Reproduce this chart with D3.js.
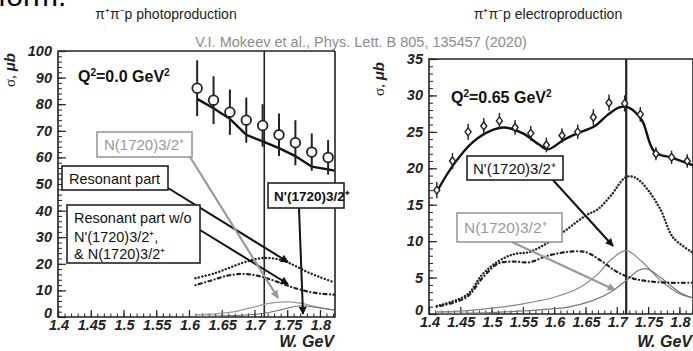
<!DOCTYPE html>
<html><head><meta charset="utf-8">
<script src="https://cdn.jsdelivr.net/npm/d3@7"></script>
<style>
body{margin:0;background:#fff;}
svg{display:block;}
text{font-family:Arial,"Liberation Sans",sans-serif;}
</style></head>
<body><svg id="c" width="693" height="351"></svg>
<script>
// ---------- DATA ----------
const xTicks = [1.4,1.45,1.5,1.55,1.6,1.65,1.7,1.75,1.8];
const yTicksPhoto = [0,10,20,30,40,50,60,70,80,90,100];
const yTicksElectro = [0,5,10,15,20,25,30,35];
const vLineW = 1.715;

// photoproduction data
const W_photo = [1.6125,1.6375,1.6625,1.6875,1.7125,1.7375,1.7625,1.7875,1.8125];
const sigma_photo = [86,81.5,77,74,72,68.5,65.5,62,60];
const err_photo = [10.5,9,8.5,8.5,8,8,8.5,7,6.5];
const fitW_photo = [1.6125,1.6375,1.6625,1.6875,1.7125,1.7375,1.7625,1.7875,1.8125,1.822];
const fit_photo = [82,78.5,74.5,68.5,66,63.5,60.5,56.5,55.5,55];
const resW_photo = [1.61,1.64,1.665,1.69,1.715,1.74,1.76,1.78,1.80,1.822];
const res_photo = [14.6,16.5,18.8,21,22.2,21.5,19.5,17,15,13];
const resWoW_photo = [1.61,1.635,1.66,1.685,1.71,1.735,1.76,1.785,1.80,1.822];
const resWo_photo = [12,13.8,15.6,16.2,15.2,13.2,11,9.4,8.8,8.4];
const nW_photo = [1.61,1.64,1.67,1.70,1.72,1.745,1.77,1.795,1.822];
const n1720_photo = [0.8,1.2,2.0,3.8,5.0,5.7,5.2,3.8,2.6];
const npW_photo = [1.61,1.65,1.69,1.72,1.745,1.77,1.795,1.822];
const nprime_photo = [0.2,0.4,0.8,1.6,3.0,4.2,3.6,2.6];

// electroproduction data
const W_el = [1.4125,1.4375,1.4625,1.4875,1.5125,1.5375,1.5625,1.5875,1.6125,1.6375,1.6625,1.6875,1.7125,1.7375,1.7625,1.7875,1.8125];
const sigma_el = [17,21,25,25.8,26.5,25.6,24.8,23.2,24.5,25,27,29,28.9,27.4,22,21.5,21];
const err_el = [0.7,0.7,0.7,0.7,0.7,0.6,0.6,0.6,0.6,0.6,0.7,0.7,0.7,0.6,0.5,0.5,0.5];
const fitW_el = [1.4125,1.44,1.47,1.50,1.52,1.55,1.575,1.59,1.615,1.64,1.665,1.685,1.705,1.72,1.74,1.76,1.79,1.822];
const fit_el = [16.8,20.6,23.6,25.2,25.6,24.8,23.3,22.6,23.9,24.9,25.8,27.3,28.4,28.3,26.6,22.3,21.4,20.4];
const resW_el = [1.4125,1.46,1.485,1.51,1.535,1.56,1.59,1.62,1.65,1.67,1.69,1.715,1.73,1.75,1.77,1.79,1.822];
const res_el = [1.1,2.6,5.4,7.2,8.2,8.5,9.8,11.6,13.5,14.4,16.2,18.8,18.7,17,14.3,10.5,8.4];
const resWoW_el = [1.4125,1.46,1.485,1.51,1.535,1.56,1.59,1.62,1.65,1.675,1.70,1.725,1.75,1.78,1.822];
const resWo_el = [1.0,2.3,4.9,6.9,7.2,7.1,8.0,8.5,8.5,7.3,5.8,4.9,4.5,4.3,4.3];
const nW_el = [1.4125,1.45,1.50,1.55,1.60,1.64,1.67,1.69,1.715,1.74,1.77,1.80,1.822];
const n1720_el = [0.3,0.4,0.8,1.4,2.3,3.6,5.5,7.4,8.7,7.2,4.6,2.8,2.2];
const npW_el = [1.4125,1.50,1.58,1.62,1.66,1.69,1.715,1.735,1.748,1.77,1.80,1.822];
const nprime_el = [0.1,0.2,0.6,0.9,1.8,3.0,4.6,6.0,6.2,5.0,3.0,2.2];

// ---------- DRAW ----------
const svg = d3.select("#c");

const defs = svg.append("defs");
function marker(id, col){
  defs.append("marker").attr("id",id).attr("viewBox","0 0 10 10").attr("refX",9).attr("refY",5)
    .attr("markerWidth",10).attr("markerHeight",8).attr("markerUnits","userSpaceOnUse").attr("orient","auto")
    .append("path").attr("d","M0,0 L10,5 L0,10 z").attr("fill",col);
}
marker("ab","#111"); marker("ag","#999");

// stray text at top (cut off line from the slide above, as in the reference)
svg.append("text").attr("x",-2).attr("y",6).attr("font-family","'Liberation Serif',serif")
  .attr("font-size",30).attr("fill","#000").text("form.");

svg.append("text").attr("x",166).attr("y",19).attr("text-anchor","middle").attr("font-size",14)
  .attr("fill","#222").text("π⁺π⁻p photoproduction");
svg.append("text").attr("x",548).attr("y",19).attr("text-anchor","middle").attr("font-size",14)
  .attr("fill","#222").text("π⁺π⁻p electroproduction");
svg.append("text").attr("x",361).attr("y",47).attr("text-anchor","middle").attr("font-size",14.5)
  .attr("fill","#8c8c8c").text("V.I. Mokeev et al., Phys. Lett. B 805, 135457 (2020)");

function panel(cfg){
  const g = svg.append("g");
  const x = d3.scaleLinear().domain([1.4, cfg.xmax]).range([cfg.left, cfg.right]);
  const y = d3.scaleLinear().domain([0, cfg.ymax]).range([cfg.bottom, cfg.top]);
  const xMinor = d3.range(1.40, cfg.xmax+1e-6, 0.01);
  g.append("g").attr("transform",`translate(0,${cfg.bottom})`)
    .call(d3.axisBottom(x).tickValues(xMinor).tickSize(-3.5).tickFormat(""))
    .call(a=>a.select(".domain").remove()).selectAll("line").attr("stroke","#222");
  g.append("g").attr("transform",`translate(0,${cfg.bottom})`)
    .call(d3.axisBottom(x).tickValues(xTicks).tickSize(-7).tickFormat(""))
    .call(a=>a.select(".domain").remove()).selectAll("line").attr("stroke","#222").attr("stroke-width",1.2);
  const yMinor = d3.range(0, cfg.ymax+1e-6, cfg.minorY);
  g.append("g").attr("transform",`translate(${cfg.left},0)`)
    .call(d3.axisLeft(y).tickValues(yMinor).tickSize(-4).tickFormat(""))
    .call(a=>a.select(".domain").remove()).selectAll("line").attr("stroke","#222");
  g.append("g").attr("transform",`translate(${cfg.left},0)`)
    .call(d3.axisLeft(y).tickValues(cfg.yTicks).tickSize(-8).tickFormat(""))
    .call(a=>a.select(".domain").remove()).selectAll("line").attr("stroke","#222").attr("stroke-width",1.2);
  g.selectAll(".xl").data(xTicks).join("text")
    .attr("x",d=>x(d)+1).attr("y",cfg.bottom+13).attr("text-anchor","middle")
    .attr("font-size",14.5).attr("font-weight","bold").attr("font-style","italic").attr("fill","#222")
    .text(d=>d3.format("")(d));
  g.selectAll(".yl").data(cfg.yTicks).join("text")
    .attr("x",cfg.left-6).attr("y",d=>y(d)+(d===0?1:5)).attr("text-anchor","end")
    .attr("font-size",14.5).attr("font-weight","bold").attr("font-style","italic").attr("fill","#222")
    .text(d=>d);
  g.append("path").attr("d",`M${cfg.right},${cfg.top}H${cfg.left}V${cfg.bottom}H${cfg.right}V${cfg.top}`)
    .attr("fill","none").attr("stroke","#222").attr("stroke-width",1.6);
  g.append("line").attr("x1",x(vLineW)).attr("x2",x(vLineW)).attr("y1",cfg.top).attr("y2",cfg.bottom)
    .attr("stroke","#222").attr("stroke-width",cfg.vlw);
  g.append("text").attr("x",cfg.wx).attr("y",347).attr("text-anchor","end")
    .attr("font-size",16).attr("font-weight","bold").attr("font-style","italic").attr("fill","#222").text("W. GeV");
  const yt = g.append("text").attr("transform",`translate(${cfg.sx},${cfg.sy}) rotate(-90)`)
    .attr("text-anchor","middle").attr("fill","#222");
  yt.append("tspan").attr("font-family","'Liberation Serif',serif").attr("font-size",15).text("σ, ");
  yt.append("tspan").attr("font-size",15).attr("font-weight","bold").attr("font-style","italic").text("μb");
  const q = g.append("text").attr("x",cfg.qx).attr("y",cfg.qy).attr("font-family","'Liberation Serif','Times New Roman',serif")
    .attr("font-size",16).attr("font-weight","bold").attr("fill","#111");
  q.append("tspan").text("Q");
  q.append("tspan").attr("font-size",10).attr("dy",-6).text("2");
  q.append("tspan").attr("dy",6).text(cfg.qtext+" GeV");
  q.append("tspan").attr("font-size",10).attr("dy",-6).text("2");

  const line = d3.line().x(d=>x(d[0])).y(d=>y(d[1])).curve(d3.curveCatmullRom.alpha(0.5));
  const zip = (a,b)=>a.map((v,i)=>[v,b[i]]);
  cfg.curves.forEach(c=>{
    g.append("path").attr("d",line(zip(c.w,c.v))).attr("fill","none").attr("stroke",c.col)
      .attr("stroke-width",c.sw).attr("stroke-dasharray",c.dash||null).attr("stroke-linecap",c.cap||"butt");
  });
  return {g,x,y};
}

// ---------- LEFT PANEL ----------
const L = panel({left:58,right:335,top:51,bottom:317,xmax:1.823,ymax:100,minorY:2,yTicks:yTicksPhoto,
  vlw:1.6,wx:334,sx:15,sy:70,qx:78,qy:82,qtext:"=0.0",
  curves:[
    {w:nW_photo,v:n1720_photo,col:"#999",sw:1.2},
    {w:npW_photo,v:nprime_photo,col:"#666",sw:1.0},
    {w:resW_photo,v:res_photo,col:"#222",sw:2.4,dash:"0.1,3.4",cap:"round"},
    {w:resWoW_photo,v:resWo_photo,col:"#222",sw:2.2,dash:"0.1,3.4,3,3.4",cap:"round"},
  ]});
L.g.append("path").attr("d",d3.line().x(d=>L.x(d[0])).y(d=>L.y(d[1])).curve(d3.curveLinear)(fitW_photo.map((w,i)=>[w,fit_photo[i]])))
  .attr("fill","none").attr("stroke","#111").attr("stroke-width",2.4);
L.g.selectAll(".eb").data(W_photo).join("line")
  .attr("x1",d=>L.x(d)).attr("x2",d=>L.x(d))
  .attr("y1",(d,i)=>L.y(sigma_photo[i]+err_photo[i])).attr("y2",(d,i)=>L.y(sigma_photo[i]-err_photo[i]))
  .attr("stroke","#222").attr("stroke-width",2);
L.g.selectAll(".pt").data(W_photo).join("circle")
  .attr("cx",d=>L.x(d)).attr("cy",(d,i)=>L.y(sigma_photo[i])).attr("r",4.8)
  .attr("fill","#fff").attr("stroke","#222").attr("stroke-width",1.8);

// ---------- RIGHT PANEL ----------
const R = panel({left:429,right:693,top:59,bottom:314,xmax:1.8217,ymax:35,minorY:1,yTicks:yTicksElectro,
  vlw:2.2,wx:692,sx:384,sy:79,qx:451,qy:103,qtext:"=0.65",
  curves:[
    {w:nW_el,v:n1720_el,col:"#888",sw:1.2},
    {w:npW_el,v:nprime_el,col:"#777",sw:1.2},
    {w:resW_el,v:res_el,col:"#222",sw:2.4,dash:"0.1,3.2",cap:"round"},
    {w:resWoW_el,v:resWo_el,col:"#222",sw:2.2,dash:"0.1,3.4,3,3.4",cap:"round"},
  ]});
R.g.append("path").attr("d",d3.line().x(d=>R.x(d[0])).y(d=>R.y(d[1])).curve(d3.curveCatmullRom.alpha(0.5))(fitW_el.map((w,i)=>[w,fit_el[i]])))
  .attr("fill","none").attr("stroke","#111").attr("stroke-width",2.4);
R.g.selectAll(".eb").data(W_el).join("line")
  .attr("x1",d=>R.x(d)).attr("x2",d=>R.x(d))
  .attr("y1",(d,i)=>R.y(sigma_el[i]+err_el[i])-3).attr("y2",(d,i)=>R.y(sigma_el[i]-err_el[i])+3)
  .attr("stroke","#222").attr("stroke-width",1.4);
R.g.selectAll(".pt").data(W_el).join("path")
  .attr("transform",(d,i)=>`translate(${R.x(d)},${R.y(sigma_el[i])})`)
  .attr("d","M0,-4L3,0L0,4L-3,0Z").attr("fill","#fff").attr("stroke","#222").attr("stroke-width",1.4);

// ---------- ANNOTATIONS ----------
function box(x0,y0,w,h,col,sw){
  svg.append("rect").attr("x",x0).attr("y",y0).attr("width",w).attr("height",h)
    .attr("fill","#fff").attr("stroke",col).attr("stroke-width",sw);
}
function label(x0,y0,txt,col,size,bold){
  svg.append("text").attr("x",x0).attr("y",y0).attr("font-size",size).attr("fill",col)
    .attr("font-weight",bold?"bold":"normal").text(txt);
}
function arrow(x1,y1,x2,y2,col,id,sw){
  svg.append("line").attr("x1",x1).attr("y1",y1).attr("x2",x2).attr("y2",y2)
    .attr("stroke",col).attr("stroke-width",sw).attr("marker-end",`url(#${id})`);
}
arrow(168,188,288,262,"#111","ab",2);
arrow(200,230,288,284,"#111","ab",2);
arrow(190,157,278,298,"#999","ag",2.2);
arrow(299,208,303,314,"#111","ab",2);
box(97,132,95,25,"#999",1.6); label(104,150,"N(1720)3/2⁺","#999",15,false);
box(62,166,106,24,"#222",1.6); label(69,184,"Resonant part","#111",14.5,false);
box(67,205,133,58,"#222",1.6);
label(74,223,"Resonant part w/o","#111",14.5,false);
label(74,242,"N'(1720)3/2⁺,","#111",14.5,false);
label(74,259," & N(1720)3/2⁺","#111",14.5,false);
box(268,183,76,25,"#222",1.6); label(274,201,"N'(1720)3/2⁺","#111",13.5,true);
arrow(553,180,613,246,"#111","ab",2);
arrow(512,242,615,290,"#999","ag",2.2);
box(467,156,96,24,"#222",1.6); label(473,174,"N'(1720)3/2⁺","#111",15,false);
box(457,213,105,29,"#999",1.6); label(464,233,"N(1720)3/2⁺","#999",15.5,false);
</script></body></html>
